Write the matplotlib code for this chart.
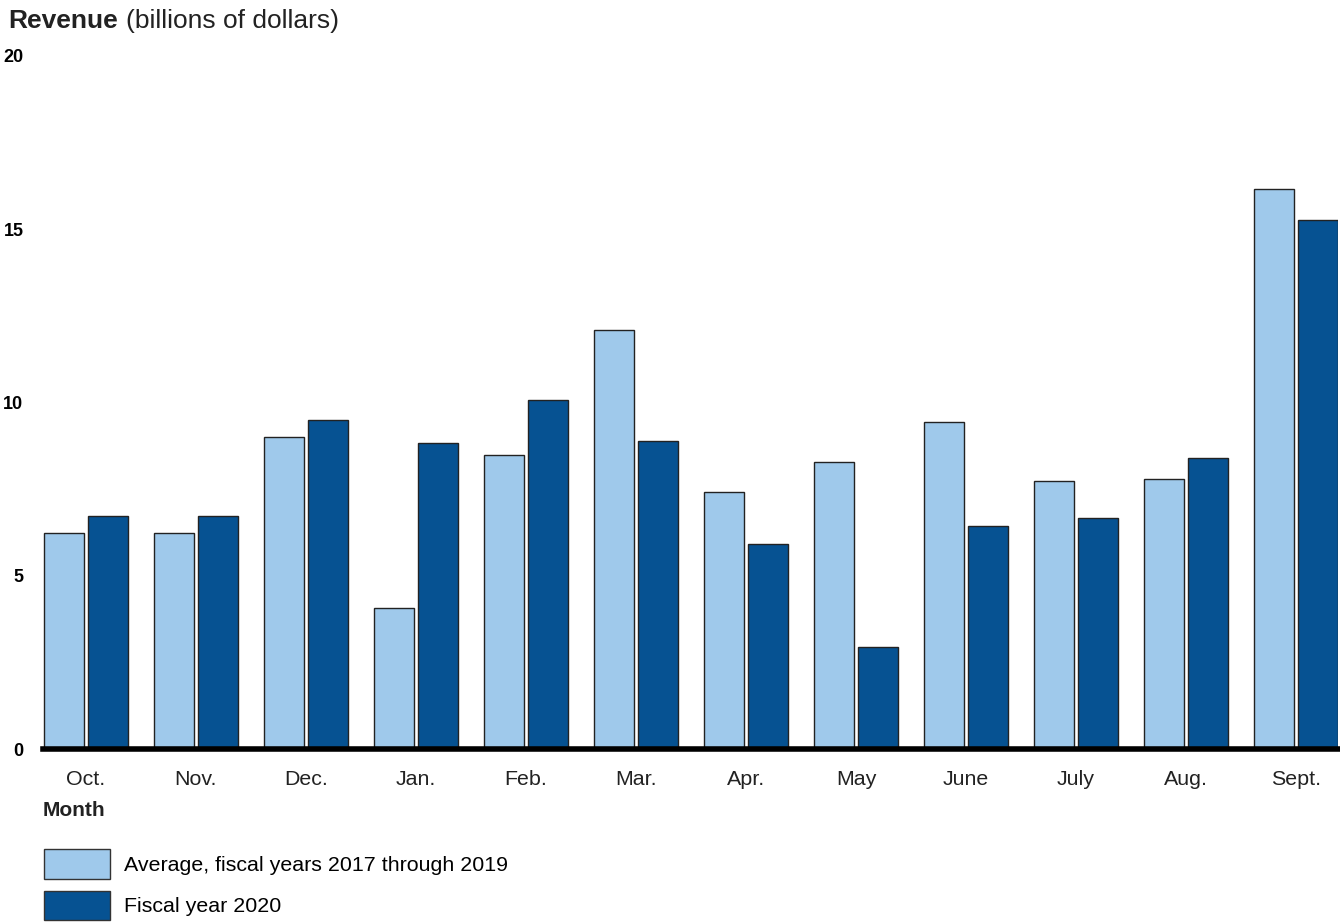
import numpy as np
import matplotlib.pyplot as plt
from matplotlib.patches import Patch

plt.rcParams['font.family'] = ['Liberation Sans', 'DejaVu Sans']

# Data
months = ['Oct.', 'Nov.', 'Dec.', 'Jan.', 'Feb.', 'Mar.', 'Apr.', 'May', 'June', 'July', 'Aug.', 'Sept.']
avg_2017_2019 = [6.23, 6.23, 9.0, 4.07, 8.48, 12.09, 7.42, 8.28, 9.44, 7.73, 7.79, 16.16]
fy_2020 = [6.72, 6.72, 9.5, 8.83, 10.07, 8.89, 5.92, 2.94, 6.44, 6.67, 8.40, 15.27]
yticks = [0, 5, 10, 15, 20]

light = '#9fc9eb'
dark = '#065292'
txt = '#222222'

fig = plt.figure(figsize=(13.4, 9.22), dpi=100)
ax = fig.add_axes([0.032, 0.1876, 0.9665, 0.7517])

x = np.arange(len(months))
w = 0.364
ax.bar(x - 0.2, avg_2017_2019, w, color=light, edgecolor=txt, linewidth=1, zorder=2)
ax.bar(x + 0.2, fy_2020, w, color=dark, edgecolor=txt, linewidth=1, zorder=2)

ax.set_xlim(-0.39, 11.38)
ax.set_ylim(0, 20)
ax.set_yticks(yticks)
ax.set_yticklabels([str(t) for t in yticks], fontsize=13, fontweight='bold')
ax.set_xticks(x)
ax.set_xticklabels(months, fontsize=15.4, color=txt)
ax.tick_params(axis='both', length=0)
ax.tick_params(axis='y', pad=14)
ax.tick_params(axis='x', pad=15)

for s in ['top', 'right', 'left']:
    ax.spines[s].set_visible(False)
ax.spines['bottom'].set_linewidth(4)
ax.spines['bottom'].set_zorder(3)

t1 = fig.text(0.006, 0.977, 'Revenue', fontsize=19, fontweight='bold', color=txt, va='center')
fig.canvas.draw()
bb = t1.get_window_extent().transformed(fig.transFigure.inverted())
fig.text(bb.x1 + 0.006, 0.977, '(billions of dollars)', fontsize=19, color=txt, va='center')
fig.text(0.032, 0.121, 'Month', fontsize=15, fontweight='bold', color=txt, va='center')

handles = [Patch(facecolor=light, edgecolor='#333333', linewidth=1),
           Patch(facecolor=dark, edgecolor='#333333', linewidth=1)]
fig.legend(handles, ['Average, fiscal years 2017 through 2019', 'Fiscal year 2020'],
           loc='upper left', bbox_to_anchor=(0.033, 0.079), frameon=False,
           fontsize=15.4, handlelength=3.07, handleheight=1.75, handletextpad=0.65,
           labelspacing=0.56, borderpad=0, borderaxespad=0)

fig.savefig('out.png', dpi=100)
